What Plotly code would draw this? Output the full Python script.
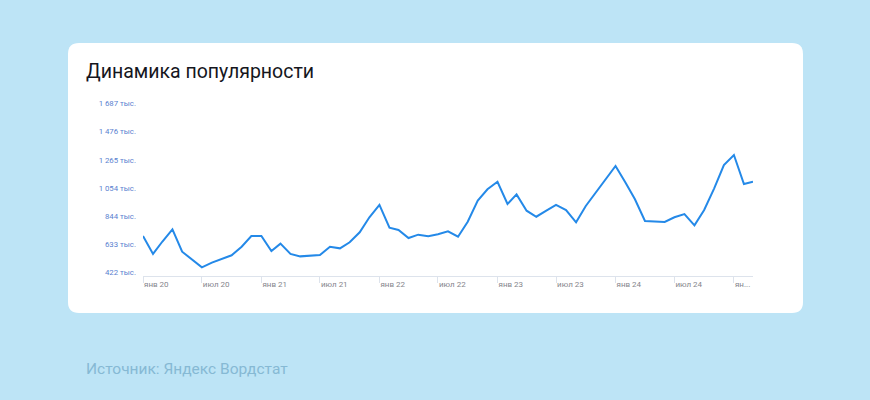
import plotly.graph_objects as go

months = [f"{y}-{m:02d}-01" for y in range(2020, 2026) for m in range(1, 13)][:63]
values = [696, 562, 655, 746, 579, 519, 462, 497, 522, 552, 616, 696,
          696, 584, 639, 562, 544, 547, 554, 616, 604, 649, 724, 836,
          928, 758, 741, 681, 706, 694, 709, 731, 691, 803, 960, 1045,
          1101, 935, 1007, 885, 840, 885, 928, 890, 798, 920, 1022, 1119,
          1219, 1094, 970, 808, 803, 801, 836, 860, 776, 890, 1052, 1226,
          1301, 1084, 1101]

y_tickvals = [422, 633, 844, 1054, 1265, 1476, 1687]
y_ticktext = ["422 тыс.", "633 тыс.", "844 тыс.", "1 054 тыс.", "1 265 тыс.", "1 476 тыс.", "1 687 тыс."]
x_tickvals = ["2020-01-01", "2020-07-01", "2021-01-01", "2021-07-01", "2022-01-01", "2022-07-01",
              "2023-01-01", "2023-07-01", "2024-01-01", "2024-07-01", "2025-01-01"]
x_ticktext = ["янв 20", "июл 20", "янв 21", "июл 21", "янв 22", "июл 22",
              "янв 23", "июл 23", "янв 24", "июл 24", "ян..."]

W, H = 870, 400
L, R, T, B = 143, 753, 100, 276


def px(x):
    return (x - L) / (R - L)


def py(y):
    return (B - y) / (B - T)


fig = go.Figure()
fig.add_trace(go.Scatter(x=months, y=values, mode="lines",
                         line=dict(color="#2489e8", width=2), hoverinfo="skip"))

# rounded card
x0, x1, y0, y1, r = 68, 803, 43, 313, 11
rx = r / (R - L)
ry = r / (B - T)
X0, X1, Y0, Y1 = px(x0), px(x1), py(y1), py(y0)
path = (f"M {X0+rx},{Y0} L {X1-rx},{Y0} Q {X1},{Y0} {X1},{Y0+ry} "
        f"L {X1},{Y1-ry} Q {X1},{Y1} {X1-rx},{Y1} "
        f"L {X0+rx},{Y1} Q {X0},{Y1} {X0},{Y1-ry} "
        f"L {X0},{Y0+ry} Q {X0},{Y0} {X0+rx},{Y0} Z")
fig.add_shape(type="path", path=path, xref="paper", yref="paper",
              fillcolor="white", line=dict(width=0), layer="below")

fig.add_annotation(text="Динамика популярности", xref="paper", yref="paper",
                   x=px(84), y=py(72), xanchor="left", yanchor="middle", showarrow=False,
                   font=dict(family="Roboto, sans-serif", size=19.5, color="#15161d"))
fig.add_annotation(text="Источник: Яндекс Вордстат", xref="paper", yref="paper",
                   x=px(84), y=py(369), xanchor="left", yanchor="middle", showarrow=False,
                   font=dict(family="Roboto, sans-serif", size=15.5, color="#86b9d4"))

fig.update_layout(
    width=W, height=H,
    margin=dict(l=L, r=W - R, t=T, b=H - B),
    paper_bgcolor="#bde4f6", plot_bgcolor="rgba(0,0,0,0)",
    showlegend=False,
    xaxis=dict(range=["2020-01-01", "2025-03-01"], tickvals=x_tickvals, ticktext=x_ticktext,
               showgrid=False, zeroline=False, showline=True, linecolor="#dde3ec", linewidth=1,
               ticks="outside", ticklen=6, tickcolor="#dde3ec",
               ticklabelposition="outside right",
               tickfont=dict(family="Roboto, sans-serif", size=8, color="#85858c")),
    yaxis=dict(range=[397.4, 1711.6], tickvals=y_tickvals, ticktext=y_ticktext,
               showgrid=False, zeroline=False, showline=False, ticks="",
               ticklabelstandoff=6,
               tickfont=dict(family="Roboto, sans-serif", size=7.8, color="#5a7fcf")),
)

fig.write_html("out.html", config={"displayModeBar": False},
               post_script="document.body.style.margin='0';document.body.style.overflow='hidden';")
